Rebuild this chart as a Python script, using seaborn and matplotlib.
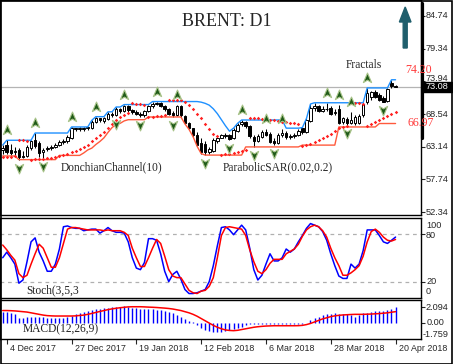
import numpy as np
import pandas as pd
import matplotlib
matplotlib.use("Agg")
import matplotlib.pyplot as plt
import seaborn as sns
from matplotlib.path import Path
from matplotlib.patches import Rectangle, Polygon
from matplotlib.lines import Line2D

# ---------------- data ----------------
opens = [62.6, 63.4, 62.6, 62.3, 62.6, 61.6, 61.6, 62.9, 64.2, 63.7,
         62.2, 62.7, 62.9, 63.1, 63.5, 63.9, 64.0, 64.6, 66.2, 66.0,
         66.0, 66.2, 66.3, 67.3, 67.8, 67.4, 67.7, 68.6, 68.4, 69.3,
         69.0, 69.8, 69.2, 68.9, 68.6, 68.3, 69.0, 69.8, 70.2, 70.4,
         69.9, 69.3, 68.7, 68.4, 69.9, 68.2, 67.0, 66.2, 65.0, 63.8,
         63.6, 62.3, 62.5, 64.1, 64.6, 65.1, 65.0, 64.5, 65.8, 66.9,
         67.3, 66.6, 64.8, 64.1, 64.8, 65.6, 65.3, 64.1, 63.8, 65.0,
         65.4, 64.7, 64.9, 65.0, 66.2, 65.6, 67.4, 69.5, 69.9, 69.1,
         69.4, 69.6, 68.7, 69.3, 67.3, 67.7, 67.1, 67.0, 67.1, 68.3,
         70.6, 71.3, 72.2, 71.7, 71.2, 70.7, 73.7, 73.15]
highs = [63.4, 64.2, 63.6, 63.1, 62.9, 62.4, 63.5, 64.2, 65.4, 64.1,
         62.9, 63.3, 63.4, 63.75, 64.2, 64.4, 65.0, 66.4, 66.3, 66.35,
         66.4, 66.4, 67.5, 68.1, 67.9, 68.0, 68.9, 68.9, 69.7, 69.6,
         70.1, 70.0, 69.4, 69.2, 68.9, 69.2, 70.0, 70.5, 70.6, 70.6,
         70.1, 69.5, 69.0, 70.03, 70.0, 68.4, 67.2, 66.3, 65.5, 64.6,
         64.1, 63.1, 64.5, 64.8, 65.3, 65.4, 65.2, 66.2, 67.0, 67.55,
         67.4, 66.7, 65.0, 65.3, 65.9, 66.07, 65.5, 64.5, 65.4, 66.07,
         65.7, 65.2, 65.4, 66.0, 66.3, 67.8, 70.2, 70.4, 70.1, 69.8,
         70.36, 69.8, 69.4, 70.03, 68.1, 68.0, 68.87, 68.4, 68.5, 70.4,
         72.84, 72.4, 72.5, 72.0, 71.5, 72.8, 74.2, 73.4]
lows = [62.0, 61.9, 61.7, 61.8, 61.0, 61.2, 61.4, 62.6, 62.9, 61.4,
        61.3, 62.4, 62.6, 62.9, 63.25, 63.6, 63.75, 64.4, 65.7, 65.8,
        65.8, 65.9, 66.1, 67.1, 67.2, 67.0, 67.5, 68.1, 68.2, 68.7,
        68.8, 68.9, 68.5, 68.3, 68.05, 68.1, 68.8, 69.6, 70.0, 69.7,
        69.0, 68.3, 68.05, 68.2, 68.1, 66.9, 66.0, 64.8, 63.2, 62.0,
        61.76, 61.9, 62.3, 63.8, 64.5, 64.6, 64.24, 64.4, 65.6, 66.6,
        66.3, 64.6, 63.1, 63.9, 64.6, 64.9, 63.7, 63.4, 63.6, 64.8,
        64.4, 64.4, 64.6, 64.9, 65.3, 65.4, 67.2, 69.0, 68.8, 68.9,
        69.0, 68.3, 68.4, 66.9, 66.9, 66.7, 66.9, 66.8, 66.9, 68.1,
        70.2, 70.9, 71.2, 70.7, 70.5, 70.6, 72.8, 72.95]
closes = [62.9, 62.3, 62.1, 62.5, 61.5, 61.5, 63.1, 64.0, 63.3, 62.1,
          62.6, 63.0, 63.1, 63.5, 63.9, 64.1, 64.7, 66.2, 66.0, 66.3,
          66.3, 66.35, 67.3, 67.8, 67.5, 67.8, 68.6, 68.4, 69.3, 69.0,
          69.8, 69.2, 68.8, 68.6, 68.3, 69.0, 69.8, 70.2, 70.4, 69.9,
          69.3, 68.6, 68.3, 69.9, 68.3, 67.0, 66.2, 65.0, 63.5, 62.3,
          62.2, 62.7, 64.2, 64.6, 65.1, 64.9, 64.4, 65.9, 66.8, 67.3,
          66.6, 64.9, 64.1, 64.9, 65.6, 65.1, 63.9, 63.7, 65.1, 65.4,
          64.7, 64.9, 65.1, 65.8, 65.6, 67.5, 69.6, 69.9, 69.0, 69.4,
          69.3, 68.6, 68.9, 67.0, 67.8, 67.0, 67.5, 68.1, 68.2, 70.2,
          72.0, 72.2, 71.4, 70.9, 70.6, 72.6, 73.1, 73.08]

dc_upper = ([63.4] + [64.2] * 7 + [65.4] * 9 + [66.4] * 5 + [67.5] + [68.1] * 3
            + [68.9] * 2 + [69.7] * 2 + [70.1] * 7 + [70.6] * 12
            + [70.5, 70.3, 70.0, 69.4, 68.6, 67.6, 66.6, 65.7, 66.2, 67.0]
            + [67.55] * 11 + [66.2] * 4 + [66.3, 67.8, 70.2] + [70.4] * 13
            + [72.85] * 6 + [74.2] * 2)
dc_lower = ([61.6] * 4 + [61.0] * 10 + [61.7] * 6
            + [62.1, 62.6, 62.9, 63.5, 64.0, 64.6, 65.5, 66.3, 66.8, 67.0, 67.4]
            + [67.6] * 5 + [68.05] * 9 + [66.9, 66.0, 64.8, 63.2, 62.0]
            + [61.75] * 10 + [63.1] * 14 + [63.4] * 9 + [66.4] * 10 + [66.97] * 5)
sar = ([61.4, 61.45, 61.5, 61.6, 64.3, 64.2, 64.1,
        61.0, 61.05, 61.1, 61.15, 61.25, 61.35, 61.5, 61.6, 61.75, 61.9,
        62.2, 62.5, 62.8, 63.1, 63.5, 64.0, 64.5, 65.0, 65.6, 66.2, 66.9,
        67.5, 68.0, 68.4, 68.7,
        70.3, 70.25, 70.15, 70.05,
        68.05, 68.1, 68.15, 68.2, 68.3,
        70.9, 70.9, 70.85, 70.8, 70.5, 70.0, 69.3, 68.5, 67.8, 66.9, 66.0, 65.3, 64.9,
        61.75, 61.85, 61.95, 62.05, 62.2, 62.4, 62.6,
        67.9, 67.85, 67.8, 67.75, 67.7, 67.6, 67.5, 67.4, 67.3, 67.2, 67.1, 67.0, 66.9,
        63.3, 63.4, 63.6, 63.9, 64.2, 64.5, 64.9, 65.3, 65.7, 66.2, 66.4, 66.6,
        70.4, 70.35, 70.3, 70.25,
        66.6, 66.9, 67.2, 67.5, 67.85, 68.2, 68.55, 68.9])
stoch_k = [50, 57, 50, 42, 18, 22, 45, 70, 75, 57, 46, 33, 33, 42, 61, 89, 90, 88, 87, 87,
           84, 85, 86, 86, 81, 84, 88, 84, 82, 82, 81, 70, 50, 37, 35, 44, 74, 74, 72, 55,
           33, 20, 29, 33, 23, 10, 5, 5, 6, 8, 10, 20, 40, 65, 88, 89, 85, 79, 85, 91,
           85, 62, 35, 22, 28, 42, 55, 46, 46, 50, 61, 57, 61, 70, 78, 87, 93, 91, 89, 83,
           72, 55, 40, 27, 24, 24, 42, 37, 42, 59, 85, 85, 85, 78, 70, 68, 72, 76]
stoch_d = [66, 60, 53, 47, 30, 25, 28, 42, 55, 67, 62, 50, 38, 38, 50, 68, 86, 88, 88, 87,
           86, 85, 85, 85, 85, 84, 85, 84, 84, 84, 82, 78, 62, 50, 39, 39, 50, 62, 73, 68,
           52, 35, 27, 25, 25, 17, 9, 6, 5, 8, 9, 14, 25, 50, 78, 88, 89, 88, 87, 86,
           78, 60, 45, 33, 30, 35, 43, 48, 48, 48, 55, 58, 61, 67, 77, 85, 89, 91, 89, 84,
           76, 62, 50, 40, 28, 28, 31, 35, 40, 52, 70, 83, 86, 82, 76, 72, 71, 73]
macd_hist = [1.35, 1.35, 1.23, 1.10, 0.66, 0.66, 0.79, 0.79, 0.79, 0.79,
             0.70, 0.66, 0.66, 0.66, 0.66, 0.66, 0.79, 0.88, 1.10, 1.23,
             1.36, 1.54, 1.67, 1.75, 1.80, 1.89, 1.97, 2.02, 2.02, 2.10,
             2.19, 2.10, 1.97, 1.89, 1.80, 1.75, 1.75, 1.75, 1.67, 1.67,
             1.54, 1.36, 1.23, 1.01, 0.79, 0.48, 0.22, 0.13, -0.31, -0.75,
             -0.96, -1.10, -1.18, -1.18, -1.18, -1.10, -0.96, -0.88, -0.75, -0.53,
             -0.31, -0.22, -0.22, -0.22, -0.20, -0.20, -0.20, -0.20, -0.20, -0.20,
             -0.20, -0.20, -0.18, -0.18, -0.18, -0.09, 0.35, 0.57, 0.79, 1.01,
             1.10, 1.14, 1.23, 1.14, 1.10, 1.10, 1.01, 0.79, 1.01, 1.23,
             1.23, 1.45, 1.54, 1.54, 1.54, 1.67, 1.80, 2.09]
macd_signal = [1.60, 1.60, 1.58, 1.55, 1.50, 1.45, 1.40, 1.30, 1.20, 1.10,
               1.00, 0.93, 0.90, 0.88, 0.88, 0.88, 0.88, 0.88, 0.90, 0.95,
               1.00, 1.10, 1.22, 1.35, 1.48, 1.60, 1.72, 1.82, 1.90, 1.97,
               2.03, 2.08, 2.10, 2.10, 2.10, 2.08, 2.05, 2.03, 2.00, 1.96,
               1.92, 1.87, 1.80, 1.70, 1.60, 1.45, 1.30, 1.10, 0.85, 0.55,
               0.25, -0.05, -0.35, -0.60, -0.80, -0.95, -1.02, -1.05, -1.00, -0.90,
               -0.80, -0.70, -0.60, -0.53, -0.48, -0.44, -0.42, -0.40, -0.40, -0.40,
               -0.40, -0.40, -0.40, -0.39, -0.35, -0.25, -0.10, 0.10, 0.30, 0.50,
               0.65, 0.80, 0.90, 0.97, 1.02, 1.05, 1.08, 1.10, 1.10, 1.10,
               1.12, 1.14, 1.17, 1.20, 1.25, 1.30, 1.38, 1.45]
fractal_up_bars = [1, 8, 17, 23, 30, 38, 43, 59, 65, 69, 80, 83, 86, 90]
fractal_down_bars = [4, 10, 28, 34, 42, 50, 56, 62, 67, 85, 94]

price_ticks = [84.74, 79.34, 73.94, 68.54, 63.14, 57.74, 52.34]
last_price = 73.08
dc_upper_label = "74.20"
dc_lower_label = "66.97"
date_ticks = [1, 17, 33, 49, 65, 81, 97]
date_labels = ["4 Dec 2017", "27 Dec 2017", "19 Jan 2018", "12 Feb 2018",
               "6 Mar 2018", "28 Mar 2018", "20 Apr 2018"]

n = len(closes)
df = pd.DataFrame({"bar": np.arange(n), "open": opens, "high": highs, "low": lows,
                   "close": closes, "dc_up": dc_upper, "dc_lo": dc_lower, "sar": sar,
                   "k": stoch_k, "d": stoch_d, "hist": macd_hist, "sig": macd_signal})

# ---------------- figure / layout ----------------
sns.set_style("white")
plt.rcParams['font.family'] = ['DejaVu Sans']
W, H = 453, 364
fig = plt.figure(figsize=(W / 100, H / 100), dpi=100)
fig.patch.set_facecolor("white")


def rect(x0, y0, x1, y1):
    return [x0 / W, 1 - y1 / H, (x1 - x0) / W, (y1 - y0) / H]


def ftext(x, y, s, **kw):
    return fig.text(x / W, 1 - y / H, s, **kw)


PX = 4.05       # pixels per bar
X0 = 2.7        # pixel of bar 0
AXR = 421
xlim = (-X0 / PX, (AXR - X0) / PX)

ax = fig.add_axes(rect(0, 0, AXR, 215))
ax_s = fig.add_axes(rect(0, 218, AXR, 297.5))
ax_m = fig.add_axes(rect(0, 299.5, AXR, 338.5))

SC = 6.05  # px per price unit
ax.set_ylim(84.74 - (215 - 16) / SC, 84.74 + 16 / SC)
ax_s.set_ylim(0, 100)
ax_m.set_ylim(-(338.5 - 322.7) / 7.6, (322.7 - 299.5) / 7.6)

for a in (ax, ax_s, ax_m):
    a.set_xlim(*xlim)
    a.set_facecolor("white")
    for sp in a.spines.values():
        sp.set_color("black")
        sp.set_linewidth(1.0)
    a.set_xticks([])
    a.set_yticks([])

# ---------------- main panel ----------------
ax.axhline(last_price, color="#b4b4b4", lw=0.9, zorder=1)

up = df["close"] >= df["open"]
ax.vlines(df["bar"], df["low"], df["high"], color="black", lw=0.75, zorder=2)
body_lo = np.minimum(df["open"], df["close"])
body_h = np.maximum(np.abs(df["close"] - df["open"]), 0.06)
ax.bar(df["bar"][up], body_h[up], bottom=body_lo[up], width=0.62,
       color="white", edgecolor="black", linewidth=0.7, zorder=3)
ax.bar(df["bar"][~up], body_h[~up], bottom=body_lo[~up], width=0.62,
       color="black", edgecolor="black", linewidth=0.7, zorder=3)

sns.lineplot(data=df, x="bar", y="dc_up", ax=ax, color="#1e90ff", lw=1.0, zorder=4)
sns.lineplot(data=df, x="bar", y="dc_lo", ax=ax, color="#ff5a3c", lw=1.0, zorder=4)
sns.scatterplot(data=df, x="bar", y="sar", ax=ax, marker="D", s=3.2, color="#ff2020",
                linewidth=0, zorder=5)

up_path = Path([(0, 1), (0.75, -0.75), (0, -0.3), (-0.75, -0.75), (0, 1)],
               [Path.MOVETO, Path.LINETO, Path.LINETO, Path.LINETO, Path.CLOSEPOLY])
dn_path = Path([(0, -1), (0.75, 0.75), (0, 0.3), (-0.75, 0.75), (0, -1)],
               [Path.MOVETO, Path.LINETO, Path.LINETO, Path.LINETO, Path.CLOSEPOLY])
fu = df.loc[fractal_up_bars]
fd = df.loc[fractal_down_bars]
sns.scatterplot(x=fu["bar"], y=fu["high"] + 10 / SC, ax=ax, marker=up_path, s=62,
                color="#1f5a18", edgecolor="#a9c48a", linewidth=0.8, zorder=6)
sns.scatterplot(x=fd["bar"], y=fd["low"] - 8 / SC, ax=ax, marker=dn_path, s=62,
                color="#1f5a18", edgecolor="#a9c48a", linewidth=0.8, zorder=6)
ax.set_xlim(*xlim)
ax.set_xticks([])
ax.set_xlabel("")
ax.set_ylabel("")
ax.tick_params(axis="y", right=True, left=False, length=3, width=0.8, direction="out",
               labelleft=False, labelright=False)
ax.set_yticks(price_ticks)

serif = ["Liberation Serif", "DejaVu Serif"]
sans = ["Liberation Sans", "DejaVu Sans"]
for v in price_ticks:
    yy = 16 + (84.74 - v) * SC
    if abs(v - 73.94) < 1e-6:
        # mostly hidden behind the last-price box, as in the reference
        t = ftext(426, yy - 2.5, f"{v:.2f}", family=sans, size=6.6, ha="left", va="center")
        clip = Rectangle((421 / W, 1 - 81.7 / H), 32 / W, 8 / H, transform=fig.transFigure)
        t.set_clip_path(clip)
    else:
        ftext(426, yy, f"{v:.2f}", family=sans, size=6.6, ha="left", va="center")

ftext(227, 21, "BRENT: D1", family=serif, size=13, ha="center", va="center")
ftext(364, 65, "Fractals", family=serif, size=8.3, ha="center", va="center")
ftext(112, 167, "DonchianChannel(10)", family=serif, size=8.3, ha="center", va="center")
ftext(278, 167, "ParabolicSAR(0.02,0.2)", family=serif, size=8.3, ha="center", va="center")
ftext(405, 70, dc_upper_label, family=serif, size=8.6, color="#ff3c3c",
      ha="left", va="center", zorder=6)
ftext(407, 123, dc_lower_label, family=serif, size=8.6, color="#ff3c3c",
      ha="left", va="center", zorder=6)

# last price box
fig.patches.append(Rectangle((421.7 / W, 1 - 92 / H), 30 / W, 10.5 / H,
                             transform=fig.transFigure, color="black", zorder=5))
ftext(437, 86.8, f"{last_price:.2f}", family=sans, size=6.6, color="white",
      ha="center", va="center", zorder=7)

# thick bar on price scale
fig.lines.append(Line2D([421.7 / W, 421.7 / W], [1 - 3 / H, 1 - 138 / H],
                        transform=fig.transFigure, color="black", lw=2.3, zorder=5))

# big up arrow
arrow_px = [(403.2, 48), (407.2, 48), (407.2, 22), (411, 22), (405.2, 7),
            (399.4, 22), (403.2, 22)]
fig.patches.append(Polygon([(x / W, 1 - y / H) for x, y in arrow_px], closed=True,
                           transform=fig.transFigure, color="#1f5e6c", zorder=5))

# ---------------- stochastic ----------------
for lvl in (80, 20):
    ax_s.axhline(lvl, color="#b0b0b0", lw=0.9, ls=(0, (3, 3)), zorder=1)
sns.lineplot(data=df, x="bar", y="d", ax=ax_s, color="#ff0000", lw=1.1, zorder=3)
sns.lineplot(data=df, x="bar", y="k", ax=ax_s, color="#0000ff", lw=1.1, zorder=2)
ax_s.set_xlim(*xlim)
ax_s.set_xticks([])
ax_s.set_xlabel("")
ax_s.set_ylabel("")
ax_s.set_yticks([80, 20])
ax_s.tick_params(axis="y", right=True, left=False, length=3, width=0.8, direction="out",
                 labelleft=False, labelright=False)
for s, y in (("100", 225), ("80", 235), ("20", 282), ("0", 291.5)):
    ftext(426, y, s, family=sans, size=6.6, ha="left", va="center")
ftext(26, 290, "Stoch(3,5,3", family=serif, size=8.3, ha="left", va="center", color="#222222")

# ---------------- MACD ----------------
ax_m.vlines(df["bar"], 0, df["hist"], color="#0000ff", lw=1.0, zorder=2)
sns.lineplot(data=df, x="bar", y="sig", ax=ax_m, color="#ff0000", lw=1.1, zorder=3)
ax_m.set_xlim(*xlim)
ax_m.set_xlabel("")
ax_m.set_ylabel("")
ax_m.set_yticks([2.094, 0.0])
ax_m.tick_params(axis="y", right=True, left=False, length=3, width=0.8, direction="out",
                 labelleft=False, labelright=False)
for s, y, x in (("2.094", 307.7, 425), ("0.00", 322.7, 427), ("-1.759", 334.3, 423)):
    ftext(x, y, s, family=sans, size=6.6, ha="left", va="center")
ftext(23, 329, "MACD(12,26,9)", family=serif, size=8.3, ha="left", va="center", color="#222222")

ax_m.set_xticks(date_ticks)
ax_m.tick_params(axis="x", bottom=True, length=3.5, width=0.8, direction="out",
                 labelbottom=False)
for b, lab in zip(date_ticks, date_labels):
    ftext(X0 + PX * b + 3, 348.5, lab, family=sans, size=6.4, ha="left", va="center")

# outer frame
fig.patches.append(Rectangle((0.5 / W, 0.5 / H), (W - 1.5) / W, (H - 1.5) / H,
                             transform=fig.transFigure, fill=False,
                             edgecolor="black", lw=1.2, zorder=8))

fig.savefig("out.png", dpi=100)
